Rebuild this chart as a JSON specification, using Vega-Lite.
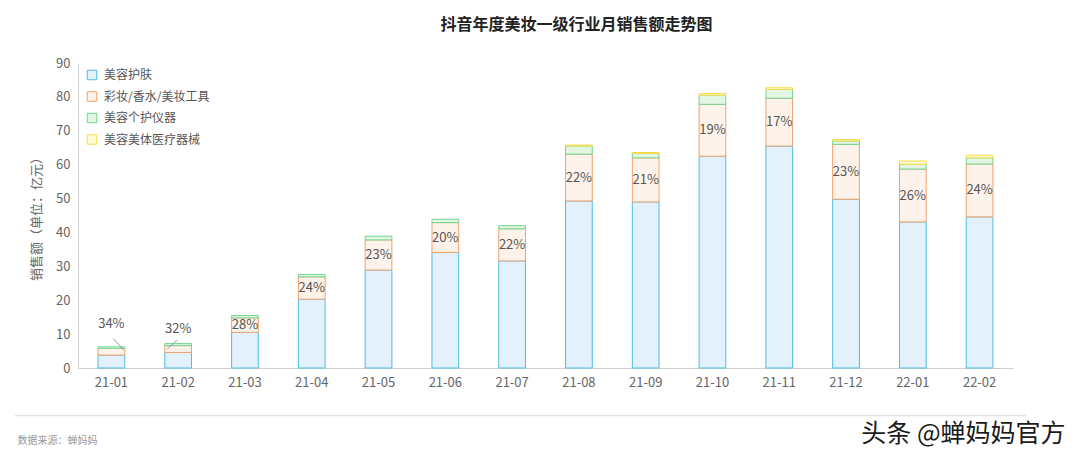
{
  "$schema": "https://vega.github.io/schema/vega-lite/v6.json",
  "autosize": {"type": "none"},
  "width": 935,
  "height": 305,
  "padding": {"left": 78, "top": 63, "right": 67, "bottom": 95},
  "background": "#ffffff",
  "config": {
    "font": "Noto Sans CJK SC",
    "view": {"stroke": null},
    "axis": {"labelOverlap": false},
    "axisY": {"labelOverlap": false, "tickCount": 10}
  },
  "title": {
    "text": "抖音年度美妆一级行业月销售额走势图",
    "fontSize": 16,
    "fontWeight": "bold",
    "color": "#222222",
    "anchor": "middle",
    "frame": "group",
    "dx": 31,
    "offset": 24
  },
  "data": {
    "values": [
      {"month": "21-01", "cat": "美容护肤", "s": 1, "value": 3.8},
      {"month": "21-01", "cat": "彩妆/香水/美妆工具", "s": 2, "value": 2.0, "pct": "34%"},
      {"month": "21-01", "cat": "美容个护仪器", "s": 3, "value": 0.45},
      {"month": "21-02", "cat": "美容护肤", "s": 1, "value": 4.6},
      {"month": "21-02", "cat": "彩妆/香水/美妆工具", "s": 2, "value": 2.0, "pct": "32%"},
      {"month": "21-02", "cat": "美容个护仪器", "s": 3, "value": 0.6},
      {"month": "21-03", "cat": "美容护肤", "s": 1, "value": 10.5},
      {"month": "21-03", "cat": "彩妆/香水/美妆工具", "s": 2, "value": 4.3, "pct": "28%"},
      {"month": "21-03", "cat": "美容个护仪器", "s": 3, "value": 0.7},
      {"month": "21-04", "cat": "美容护肤", "s": 1, "value": 20.3},
      {"month": "21-04", "cat": "彩妆/香水/美妆工具", "s": 2, "value": 6.6, "pct": "24%"},
      {"month": "21-04", "cat": "美容个护仪器", "s": 3, "value": 0.7},
      {"month": "21-05", "cat": "美容护肤", "s": 1, "value": 28.9},
      {"month": "21-05", "cat": "彩妆/香水/美妆工具", "s": 2, "value": 8.9, "pct": "23%"},
      {"month": "21-05", "cat": "美容个护仪器", "s": 3, "value": 1.1},
      {"month": "21-06", "cat": "美容护肤", "s": 1, "value": 34.1},
      {"month": "21-06", "cat": "彩妆/香水/美妆工具", "s": 2, "value": 8.8, "pct": "20%"},
      {"month": "21-06", "cat": "美容个护仪器", "s": 3, "value": 1.0},
      {"month": "21-07", "cat": "美容护肤", "s": 1, "value": 31.6},
      {"month": "21-07", "cat": "彩妆/香水/美妆工具", "s": 2, "value": 9.5, "pct": "22%"},
      {"month": "21-07", "cat": "美容个护仪器", "s": 3, "value": 0.9},
      {"month": "21-08", "cat": "美容护肤", "s": 1, "value": 49.3},
      {"month": "21-08", "cat": "彩妆/香水/美妆工具", "s": 2, "value": 13.8, "pct": "22%"},
      {"month": "21-08", "cat": "美容个护仪器", "s": 3, "value": 2.4},
      {"month": "21-08", "cat": "美容美体医疗器械", "s": 4, "value": 0.3},
      {"month": "21-09", "cat": "美容护肤", "s": 1, "value": 49.0},
      {"month": "21-09", "cat": "彩妆/香水/美妆工具", "s": 2, "value": 13.0, "pct": "21%"},
      {"month": "21-09", "cat": "美容个护仪器", "s": 3, "value": 1.3},
      {"month": "21-09", "cat": "美容美体医疗器械", "s": 4, "value": 0.3},
      {"month": "21-10", "cat": "美容护肤", "s": 1, "value": 62.5},
      {"month": "21-10", "cat": "彩妆/香水/美妆工具", "s": 2, "value": 15.3, "pct": "19%"},
      {"month": "21-10", "cat": "美容个护仪器", "s": 3, "value": 2.7},
      {"month": "21-10", "cat": "美容美体医疗器械", "s": 4, "value": 0.5},
      {"month": "21-11", "cat": "美容护肤", "s": 1, "value": 65.5},
      {"month": "21-11", "cat": "彩妆/香水/美妆工具", "s": 2, "value": 14.1, "pct": "17%"},
      {"month": "21-11", "cat": "美容个护仪器", "s": 3, "value": 2.6},
      {"month": "21-11", "cat": "美容美体医疗器械", "s": 4, "value": 0.5},
      {"month": "21-12", "cat": "美容护肤", "s": 1, "value": 49.8},
      {"month": "21-12", "cat": "彩妆/香水/美妆工具", "s": 2, "value": 16.2, "pct": "23%"},
      {"month": "21-12", "cat": "美容个护仪器", "s": 3, "value": 1.0},
      {"month": "21-12", "cat": "美容美体医疗器械", "s": 4, "value": 0.4},
      {"month": "22-01", "cat": "美容护肤", "s": 1, "value": 43.1},
      {"month": "22-01", "cat": "彩妆/香水/美妆工具", "s": 2, "value": 15.6, "pct": "26%"},
      {"month": "22-01", "cat": "美容个护仪器", "s": 3, "value": 1.4},
      {"month": "22-01", "cat": "美容美体医疗器械", "s": 4, "value": 1.0},
      {"month": "22-02", "cat": "美容护肤", "s": 1, "value": 44.6},
      {"month": "22-02", "cat": "彩妆/香水/美妆工具", "s": 2, "value": 15.6, "pct": "24%"},
      {"month": "22-02", "cat": "美容个护仪器", "s": 3, "value": 1.8},
      {"month": "22-02", "cat": "美容美体医疗器械", "s": 4, "value": 0.8}
    ]
  },
  "transform": [
    {"stack": "value", "groupby": ["month"], "sort": [{"field": "s", "order": "ascending"}], "as": ["v0", "v1"]},
    {"calculate": "(datum.v0 + datum.v1) / 2", "as": "mid"}
  ],
  "encoding": {
    "x": {
      "field": "month",
      "type": "ordinal",
      "scale": {"paddingInner": 0.6, "paddingOuter": 0.3},
      "axis": {
        "labelAngle": 0,
        "labelColor": "#666666",
        "labelFontSize": 13,
        "labelPadding": 8,
        "ticks": false,
        "domainColor": "#d0d0d0",
        "title": "数据来源：蝉妈妈",
        "titleX": -61,
        "titleY": 72,
        "titleAlign": "left",
        "titleBaseline": "middle",
        "titleFontSize": 10,
        "titleFontWeight": "normal",
        "titleColor": "#999999"
      }
    },
    "y": {
      "field": "v0",
      "type": "quantitative",
      "scale": {"domain": [0, 90], "nice": false},
      "axis": {
        "values": [0, 10, 20, 30, 40, 50, 60, 70, 80, 90],
        "labelOverlap": false,
        "grid": false,
        "ticks": false,
        "labelColor": "#666666",
        "labelFontSize": 13,
        "labelPadding": 8,
        "domainColor": "#d0d0d0",
        "title": "销售额（单位：亿元）",
        "titleFontSize": 13,
        "titleFontWeight": "normal",
        "titleColor": "#666666",
        "titlePadding": 12
      }
    }
  },
  "layer": [
    {
      "mark": {"type": "bar", "strokeWidth": 1},
      "encoding": {
        "y2": {"field": "v1"},
        "fill": {
          "field": "cat",
          "type": "nominal",
          "scale": {
            "domain": ["美容护肤", "彩妆/香水/美妆工具", "美容个护仪器", "美容美体医疗器械"],
            "range": ["#e2f1fc", "#fdf3ea", "#e2f6e3", "#fff9d4"]
          },
          "legend": {
            "title": null,
            "orient": "none",
            "legendX": 8,
            "legendY": 6,
            "symbolType": "square",
            "symbolSize": 90,
            "symbolStrokeWidth": 1,
            "labelFontSize": 12,
            "labelColor": "#555555",
            "labelOffset": 6,
            "rowPadding": 7.5
          }
        },
        "stroke": {
          "field": "cat",
          "type": "nominal",
          "scale": {
            "domain": ["美容护肤", "彩妆/香水/美妆工具", "美容个护仪器", "美容美体医疗器械"],
            "range": ["#4fbbe9", "#f2a06b", "#6fd68f", "#f5dc4a"]
          },
          "legend": {
            "title": null,
            "orient": "none",
            "legendX": 8,
            "legendY": 6,
            "symbolType": "square",
            "symbolSize": 90,
            "symbolStrokeWidth": 1,
            "labelFontSize": 12,
            "labelColor": "#555555",
            "labelOffset": 6,
            "rowPadding": 7.5
          }
        }
      }
    },
    {
      "transform": [{"filter": "datum.s == 2 && datum.month != '21-01' && datum.month != '21-02'"}],
      "mark": {"type": "text", "fontSize": 13, "color": "#555555", "baseline": "middle"},
      "encoding": {
        "y": {"field": "mid", "type": "quantitative"},
        "text": {"field": "pct"}
      }
    },
    {
      "transform": [{"filter": "datum.s == 2 && datum.month == '21-01'"}],
      "mark": {"type": "text", "fontSize": 13, "color": "#555555", "baseline": "middle", "dy": -24},
      "encoding": {
        "y": {"field": "v1", "type": "quantitative"},
        "text": {"field": "pct"}
      }
    },
    {
      "transform": [{"filter": "datum.s == 2 && datum.month == '21-02'"}],
      "mark": {"type": "text", "fontSize": 13, "color": "#555555", "baseline": "middle", "dy": -17},
      "encoding": {
        "y": {"field": "v1", "type": "quantitative"},
        "text": {"field": "pct"}
      }
    },
    {
      "transform": [{"filter": "datum.s == 2 && datum.month == '21-01'"}],
      "mark": {"type": "rule", "color": "#999999", "strokeWidth": 1, "xOffset": 12, "x2Offset": 2, "yOffset": -2, "y2Offset": -13},
      "encoding": {
        "x2": {"field": "month"},
        "y": {"field": "mid", "type": "quantitative"},
        "y2": {"field": "mid"}
      }
    },
    {
      "transform": [{"filter": "datum.s == 2 && datum.month == '21-02'"}],
      "mark": {"type": "rule", "color": "#999999", "strokeWidth": 1, "xOffset": -11, "x2Offset": -1, "yOffset": 0, "y2Offset": -9},
      "encoding": {
        "x2": {"field": "month"},
        "y": {"field": "mid", "type": "quantitative"},
        "y2": {"field": "mid"}
      }
    },
    {
      "transform": [{"filter": "datum.s == 1 && datum.month == '22-02'"}],
      "mark": {"type": "rule", "color": "#e3e3e3", "strokeWidth": 1.5, "clip": false, "xOffset": -63, "x2Offset": 14},
      "encoding": {
        "x": {"value": 0},
        "x2": {"value": 935},
        "y": {"datum": -14}
      }
    },
    {
      "transform": [{"filter": "datum.s == 1 && datum.month == '22-02'"}],
      "mark": {"type": "text", "text": "头条 @蝉妈妈官方", "fontSize": 25, "fontWeight": "normal", "color": "#1a1a1a", "align": "right", "baseline": "middle", "dx": 86, "clip": false},
      "encoding": {
        "y": {"datum": -19.5}
      }
    }
  ]
}
